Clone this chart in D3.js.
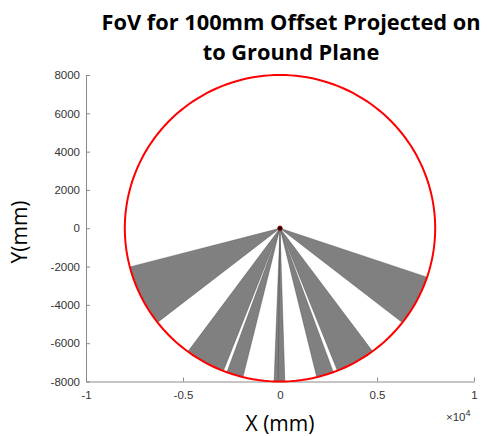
<!DOCTYPE html>
<html><head><meta charset="utf-8">
<script src="https://cdn.jsdelivr.net/npm/d3@7"></script>
<style>body{margin:0;background:#fff}svg{display:block}</style>
</head><body>
<svg id="c" width="487" height="436"></svg>
<script>
// Data
const xTicks = [-10000, -5000, 0, 5000, 10000];
const yTicks = [-8000, -6000, -4000, -2000, 0, 2000, 4000, 6000, 8000];
const circleRadius = 8000;
// FoV wedges: start / end angles (degrees, counter-clockwise from +X)
const wedgeStart = [-165.4, -126.4, -110.0, -92.2, -90.7, -76.3, -68.3, -38.0];
const wedgeEnd   = [-142.1, -111.4, -103.8, -89.5, -88.2, -69.9, -53.4, -18.6];
const apex = [0, 0];

const svg = d3.select("#c");
const x = d3.scaleLinear().domain([-10000, 10000]).range([86, 474]);
const y = d3.scaleLinear().domain([-8000, 8000]).range([381.5, 75]);

const plain = v => String(v).replace("\u2212", "-");

// axes
const axisColor = "#8a8a8a";
const tickFont = "Liberation Sans, Arial, sans-serif";
const gx = svg.append("g").attr("transform", `translate(0,${y(-8000)})`)
  .call(d3.axisBottom(x).tickValues(xTicks).tickSizeInner(-4).tickSizeOuter(0).tickPadding(9)
    .tickFormat(d => plain(d / 10000)));
const gy = svg.append("g").attr("transform", `translate(${x(-10000)},0)`)
  .call(d3.axisLeft(y).tickValues(yTicks).tickSizeInner(-4).tickSizeOuter(0).tickPadding(6)
    .tickFormat(d => plain(d)));
[gx, gy].forEach(g => {
  g.select(".domain").attr("stroke", axisColor);
  g.selectAll(".tick line").attr("stroke", axisColor);
  g.selectAll(".tick text").attr("fill", "#333").attr("font-family", tickFont).attr("font-size", 11.5);
});

// wedges
const deg = Math.PI / 180;
wedgeStart.forEach((a0, i) => {
  const a1 = wedgeEnd[i];
  const pts = [[apex[0], apex[1]]];
  const n = 40;
  for (let k = 0; k <= n; k++) {
    const a = (a0 + (a1 - a0) * k / n) * deg;
    pts.push([circleRadius * Math.cos(a), circleRadius * Math.sin(a)]);
  }
  svg.append("path")
    .attr("d", d3.line().x(d => x(d[0])).y(d => y(d[1]))(pts) + "Z")
    .attr("fill", "#808080").attr("stroke", "#3a3a3a").attr("stroke-width", 0.35);
});

// circle
const cpts = d3.range(0, 361, 2).map(a => [circleRadius * Math.cos(a * deg), circleRadius * Math.sin(a * deg)]);
svg.append("path").attr("d", d3.line().x(d => x(d[0])).y(d => y(d[1]))(cpts) + "Z")
  .attr("fill", "none").attr("stroke", "#ff0000").attr("stroke-width", 2);

// apex marker
svg.append("circle").attr("cx", x(apex[0])).attr("cy", y(apex[1])).attr("r", 2.3)
  .attr("fill", "#1a0000").attr("stroke", "#a00000").attr("stroke-width", 0.8);

// title
const tf = "Open Sans, Lato, sans-serif";
svg.append("text").attr("x", 291).attr("y", 30).attr("text-anchor", "middle")
  .attr("font-family", tf).attr("font-weight", "bold").attr("font-size", 21.8).attr("fill", "#000")
  .text("FoV for 100mm Offset Projected on");
svg.append("text").attr("x", 291).attr("y", 60).attr("text-anchor", "middle")
  .attr("font-family", tf).attr("font-weight", "bold").attr("font-size", 21.8).attr("fill", "#000")
  .text("to Ground Plane");

// axis labels
svg.append("text").attr("transform", "translate(27,232) rotate(-90)").attr("text-anchor", "middle")
  .attr("font-family", tf).attr("font-size", 21).attr("fill", "#000").text("Y(mm)");
svg.append("text").attr("x", 280).attr("y", 431).attr("text-anchor", "middle")
  .attr("font-family", tf).attr("font-size", 21).attr("fill", "#000").text("X (mm)");

// exponent
const ex = svg.append("text").attr("x", 446).attr("y", 421)
  .attr("font-family", tickFont).attr("font-size", 11.5).attr("fill", "#333");
ex.append("tspan").text("\u00d710");
ex.append("tspan").attr("dy", -5).attr("font-size", 9).text("4");
</script>
</body></html>
